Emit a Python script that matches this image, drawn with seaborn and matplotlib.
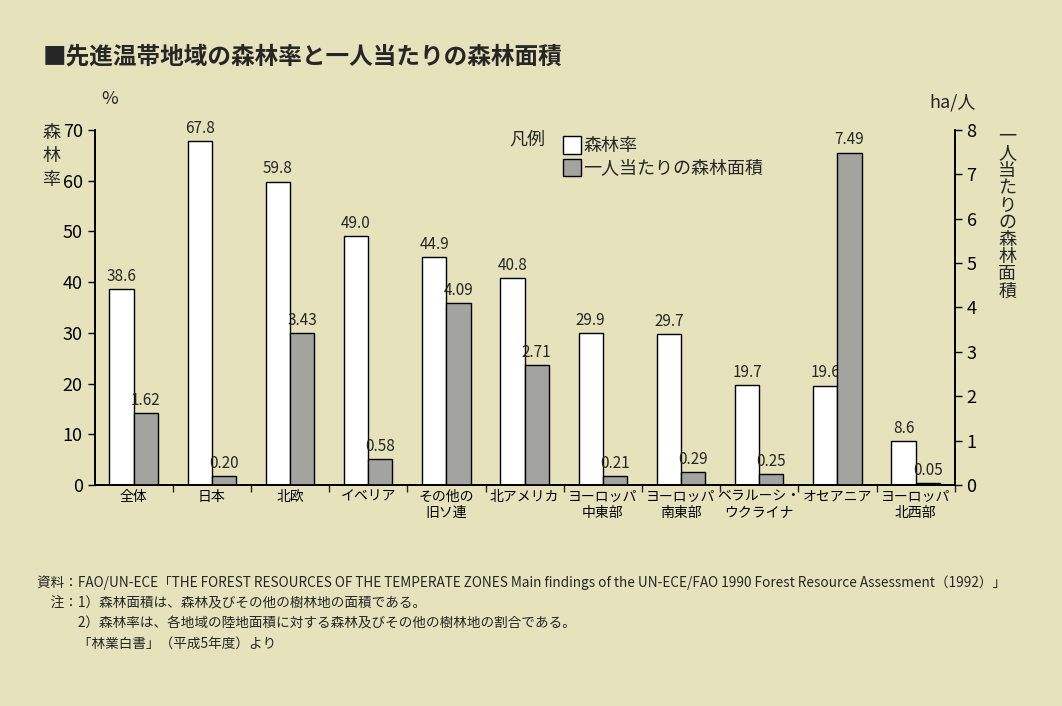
import matplotlib
matplotlib.use("Agg")
import matplotlib.pyplot as plt
import numpy as np
import pandas as pd
import seaborn as sns
from matplotlib.patches import Patch

categories = ["全体", "日本", "北欧", "イベリア", "その他の\n旧ソ連", "北アメリカ",
              "ヨーロッパ\n中東部", "ヨーロッパ\n南東部", "ベラルーシ・\nウクライナ",
              "オセアニア", "ヨーロッパ\n北西部"]
forest_rate = [38.6, 67.8, 59.8, 49.0, 44.9, 40.8, 29.9, 29.7, 19.7, 19.6, 8.6]
area_per_person = [1.62, 0.20, 3.43, 0.58, 4.09, 2.71, 0.21, 0.29, 0.25, 7.49, 0.05]
series = ["森林率", "一人当たりの森林面積"]

BG = "#e6e2bc"
GRAY = "#a3a3a0"

sns.set_theme(style="white")
plt.rcParams["font.family"] = ["Noto Sans CJK JP", "DejaVu Sans"]

rows = []
for c, r, a in zip(categories, forest_rate, area_per_person):
    rows.append({"cat": c, "series": series[0], "rate": r, "area": np.nan})
    rows.append({"cat": c, "series": series[1], "rate": np.nan, "area": a})
df = pd.DataFrame(rows)

fig = plt.figure(figsize=(10.62, 7.06), dpi=100, facecolor=BG)
ax = fig.add_axes([0.089, 0.313, 0.81, 0.503], facecolor=BG)
ax2 = ax.twinx()

pal = {series[0]: "white", series[1]: GRAY}
sns.barplot(data=df, x="cat", y="rate", hue="series", palette=pal, width=0.62,
            edgecolor="black", linewidth=1, ax=ax, legend=False)
sns.barplot(data=df, x="cat", y="area", hue="series", palette=pal, width=0.62,
            edgecolor="black", linewidth=1, ax=ax2, legend=False)

ax.set_ylim(0, 70)
ax2.set_ylim(0, 8)
ax.set_xlim(-0.5, len(categories) - 0.5)
ax.set_yticks(range(0, 71, 10))
ax2.set_yticks(range(0, 9))
ax.set_xlabel("")
ax.set_ylabel("")
ax2.set_ylabel("")
for a in (ax, ax2):
    a.spines["top"].set_visible(False)
    for s in a.spines.values():
        s.set_color("black")
    a.tick_params(axis="both", labelsize=13, colors="black", length=5, width=1)
ax.tick_params(axis="x", labelsize=10, length=0)
ax.set_xticks(np.arange(len(categories)) + 0.5, minor=True)
ax.tick_params(axis="x", which="minor", length=5, direction="out", bottom=True)

for bars, vals, fmt, a in ((ax.patches, forest_rate, "{:.1f}", ax),
                           (ax2.patches, area_per_person, "{:.2f}", ax2)):
    valid = [p for p in bars if np.isfinite(p.get_height()) and p.get_height() > 0]
    valid.sort(key=lambda p: p.get_x())
    for p, v in zip(valid, vals):
        a.annotate(fmt.format(v), (p.get_x() + p.get_width() / 2, p.get_height()),
                   xytext=(0, 3), textcoords="offset points",
                   ha="center", va="bottom", fontsize=11)

fig.text(0.04, 0.92, "■先進温帯地域の森林率と一人当たりの森林面積", fontsize=17,
         fontweight="bold", va="center")
fig.text(0.095, 0.86, "%", fontsize=13, va="center")
fig.text(0.875, 0.855, "ha/人", fontsize=13, va="center")
fig.text(0.04, 0.825, "森\n林\n率", fontsize=13, va="top", linespacing=1.4)
fig.text(0.94, 0.82, "\n".join("一人当たりの森林面積"), fontsize=13, va="top",
         linespacing=0.95)

fig.text(0.48, 0.802, "凡例", fontsize=13, va="center")
handles = [Patch(facecolor="white", edgecolor="black", label=series[0]),
           Patch(facecolor=GRAY, edgecolor="black", label=series[1])]
fig.legend(handles=handles, loc="upper left", bbox_to_anchor=(0.515, 0.83),
           frameon=False, fontsize=13, handlelength=1.0, handleheight=1.1,
           handletextpad=0.1, labelspacing=0.2)

notes = ("資料：FAO/UN-ECE「THE FOREST RESOURCES OF THE TEMPERATE ZONES Main findings of the "
         "UN-ECE/FAO 1990 Forest Resource Assessment（1992）」\n"
         "　注：1）森林面積は、森林及びその他の樹林地の面積である。\n"
         "　　　2）森林率は、各地域の陸地面積に対する森林及びその他の樹林地の割合である。\n"
         "　　　「林業白書」（平成5年度）より")
fig.text(0.035, 0.185, notes, fontsize=9.8, va="top", linespacing=1.55)

fig.savefig("out.png", dpi=100, facecolor=BG)
